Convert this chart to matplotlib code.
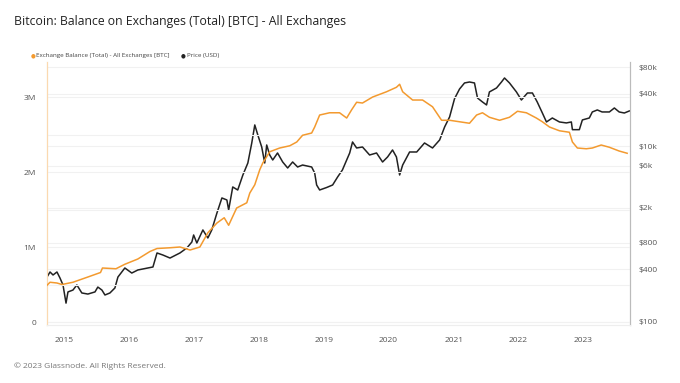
import numpy as np
import pandas as pd
import matplotlib
matplotlib.use("Agg")
import matplotlib.pyplot as plt
import matplotlib.dates as mdates
from matplotlib.ticker import FixedLocator, NullLocator

# ==============================
# DATA
# ==============================
BAL_DATES = [
    "2014-09-27", "2014-10-14", "2014-11-22", "2014-12-20", "2015-02-20",
    "2015-05-15", "2015-07-25", "2015-08-05", "2015-10-20", "2015-12-09",
    "2016-02-20", "2016-04-28", "2016-06-07", "2016-08-19", "2016-10-14",
    "2016-12-10", "2017-02-03", "2017-03-20", "2017-05-10", "2017-06-20",
    "2017-07-15", "2017-08-29", "2017-10-25", "2017-11-11", "2017-12-09",
    "2018-01-06", "2018-01-23", "2018-03-03", "2018-04-28", "2018-06-24",
    "2018-08-02", "2018-09-04", "2018-10-25", "2018-11-11", "2018-12-09",
    "2019-02-03", "2019-03-31", "2019-05-10", "2019-06-07", "2019-07-05",
    "2019-08-07", "2019-10-03", "2019-12-20", "2020-02-14", "2020-03-03",
    "2020-03-20", "2020-05-15", "2020-07-10", "2020-09-04", "2020-10-25",
    "2020-12-09", "2021-02-03", "2021-03-31", "2021-05-10", "2021-06-12",
    "2021-07-21", "2021-09-16", "2021-11-11", "2021-12-26", "2022-02-14",
    "2022-04-11", "2022-05-15", "2022-06-24", "2022-08-19", "2022-10-14",
    "2022-10-31", "2022-11-28", "2023-01-17", "2023-02-20", "2023-04-11",
    "2023-05-27", "2023-07-21", "2023-09-04",
]
BAL_BTC = [
    0.49e6, 0.53e6, 0.52e6, 0.50e6, 0.53e6,
    0.60e6, 0.66e6, 0.72e6, 0.71e6, 0.77e6,
    0.84e6, 0.94e6, 0.98e6, 0.99e6, 1.00e6,
    0.96e6, 1.00e6, 1.19e6, 1.32e6, 1.39e6,
    1.29e6, 1.52e6, 1.59e6, 1.72e6, 1.83e6,
    2.03e6, 2.12e6, 2.27e6, 2.32e6, 2.35e6,
    2.40e6, 2.49e6, 2.52e6, 2.60e6, 2.76e6,
    2.79e6, 2.79e6, 2.72e6, 2.83e6, 2.93e6,
    2.92e6, 3.00e6, 3.07e6, 3.13e6, 3.17e6,
    3.07e6, 2.96e6, 2.96e6, 2.87e6, 2.69e6,
    2.69e6, 2.67e6, 2.65e6, 2.76e6, 2.79e6,
    2.73e6, 2.69e6, 2.73e6, 2.81e6, 2.79e6,
    2.72e6, 2.67e6, 2.60e6, 2.55e6, 2.53e6,
    2.40e6, 2.32e6, 2.31e6, 2.32e6, 2.36e6,
    2.33e6, 2.28e6, 2.25e6,
]

PRICE_DATES = [
    "2014-09-27", "2014-10-14", "2014-10-31", "2014-11-22", "2014-12-09",
    "2014-12-26", "2015-01-12", "2015-01-23", "2015-02-20", "2015-03-14",
    "2015-04-11", "2015-05-15", "2015-06-24", "2015-07-10", "2015-08-02",
    "2015-08-19", "2015-09-16", "2015-10-14", "2015-10-31", "2015-12-09",
    "2016-01-17", "2016-02-20", "2016-04-16", "2016-05-15", "2016-06-07",
    "2016-07-10", "2016-08-19", "2016-10-14", "2016-11-22", "2016-12-20",
    "2016-12-30", "2017-01-17", "2017-02-20", "2017-03-20", "2017-04-11",
    "2017-05-10", "2017-06-07", "2017-07-05", "2017-07-15", "2017-08-07",
    "2017-09-04", "2017-10-03", "2017-10-31", "2017-11-22", "2017-12-09",
    "2017-12-26", "2018-01-17", "2018-02-03", "2018-02-14", "2018-03-03",
    "2018-03-20", "2018-04-16", "2018-05-15", "2018-06-12", "2018-07-10",
    "2018-08-07", "2018-09-04", "2018-10-25", "2018-11-11", "2018-11-22",
    "2018-12-09", "2019-01-17", "2019-02-20", "2019-03-20", "2019-04-16",
    "2019-05-10", "2019-05-27", "2019-06-12", "2019-07-05", "2019-08-07",
    "2019-09-16", "2019-10-25", "2019-11-28", "2019-12-26", "2020-01-23",
    "2020-02-14", "2020-03-03", "2020-03-20", "2020-04-28", "2020-06-07",
    "2020-07-21", "2020-09-04", "2020-10-14", "2020-11-11", "2020-12-09",
    "2021-01-06", "2021-02-03", "2021-03-03", "2021-03-31", "2021-04-28",
    "2021-05-15", "2021-06-12", "2021-07-05", "2021-07-21", "2021-08-30",
    "2021-09-27", "2021-10-14", "2021-11-11", "2021-12-20", "2022-01-17",
    "2022-02-20", "2022-03-20", "2022-04-16", "2022-05-15", "2022-06-07",
    "2022-07-10", "2022-08-19", "2022-09-27", "2022-10-25", "2022-10-31",
    "2022-12-09", "2022-12-26", "2023-02-03", "2023-02-20", "2023-03-20",
    "2023-04-16", "2023-05-27", "2023-06-24", "2023-07-21", "2023-08-19",
    "2023-09-16",
]
PRICE_USD = [
    325, 371, 343, 371, 317,
    264, 164, 220, 231, 264,
    214, 208, 220, 250, 231,
    203, 214, 244, 325, 412,
    361, 391, 412, 423, 611,
    579, 535, 611, 697, 815,
    979, 794, 1117, 905, 1117,
    1742, 2585, 2453, 1887, 3449,
    3186, 4722, 6468, 10930, 17540,
    13490, 9840, 6468, 10370, 7977,
    6998, 8410, 6640, 5675, 6640,
    5823, 6133, 5823, 4974, 3633,
    3186, 3400, 3633, 4481, 5385,
    6998, 8410, 11220, 9590, 9840,
    7977, 8410, 6640, 7570, 9100,
    7570, 4722, 6133, 8630, 8630,
    10930, 9590, 11830, 16630, 21630,
    35000, 45000, 52750, 54110, 52750,
    35570, 32050, 29630, 41690, 46240,
    54110, 60090, 52750, 41690, 33760,
    40550, 40550, 32050, 23990, 18970,
    21050, 18970, 18490, 18970, 15500,
    15500, 20000, 21050, 24660, 25990,
    24660, 24660, 27370, 24660, 23990,
    25300,
]

YEAR_TICKS = [2015, 2016, 2017, 2018, 2019, 2020, 2021, 2022, 2023]
LEFT_TICKS = [0, 1e6, 2e6, 3e6]
LEFT_LABELS = ["0", "1M", "2M", "3M"]
RIGHT_TICKS = [100, 400, 800, 2000, 6000, 10000, 40000, 80000]
RIGHT_LABELS = ["$100", "$400", "$800", "$2k", "$6k", "$10k", "$40k", "$80k"]

TITLE = "Bitcoin: Balance on Exchanges (Total) [BTC] - All Exchanges"
FOOTER = "\u00a9 2023 Glassnode. All Rights Reserved."

# ==============================
# STYLE
# ==============================
ORANGE = "#f39a2f"
BLACK = "#222222"
TICK_GREY = "#555555"
GRID = "#f1f1f1"

plt.rcParams["font.family"] = ["Open Sans", "DejaVu Sans"]


def main():
    bal_x = pd.to_datetime(BAL_DATES)
    px_x = pd.to_datetime(PRICE_DATES)

    fig = plt.figure(figsize=(6.8, 3.83), dpi=100)
    ax = fig.add_axes([47 / 680, 1 - 325 / 383, (630 - 47) / 680, (325 - 62) / 383])
    ax2 = ax.twinx()

    # left axis: balance
    ax.set_ylim(-0.04e6, 3.467e6)
    ax.yaxis.set_major_locator(FixedLocator(LEFT_TICKS))
    ax.set_yticklabels(LEFT_LABELS)
    for v in np.arange(0, 3.5e6, 0.5e6):
        ax.axhline(v, color=GRID, lw=0.8, zorder=0)

    # right axis: price, log
    ax2.set_yscale("log")
    ax2.set_ylim(92.4, 91400)
    ax2.yaxis.set_major_locator(FixedLocator(RIGHT_TICKS))
    ax2.yaxis.set_minor_locator(NullLocator())
    ax2.set_yticklabels(RIGHT_LABELS)
    for v in RIGHT_TICKS:
        ax2.axhline(v, color=GRID, lw=0.8, zorder=0)

    ax.plot(bal_x, BAL_BTC, color=ORANGE, lw=1.1, zorder=3)
    ax2.plot(px_x, PRICE_USD, color=BLACK, lw=1.1, zorder=3)

    ax.set_xlim(pd.Timestamp("2014-09-27"), pd.Timestamp("2023-09-20"))
    ax.xaxis.set_major_locator(FixedLocator([mdates.date2num(pd.Timestamp(f"{y}-01-01")) for y in YEAR_TICKS]))
    ax.xaxis.set_major_formatter(mdates.DateFormatter("%Y"))

    for a in (ax, ax2):
        a.tick_params(length=0, labelsize=6, colors=TICK_GREY)
        a.spines["top"].set_visible(False)
        a.spines["bottom"].set_color("#eeeeee")
        a.spines["left"].set_color("#fbd9b0")
        a.spines["right"].set_color("#bbbbbb")
    ax.tick_params(axis="x", pad=9)
    ax.tick_params(axis="y", pad=8)
    ax2.tick_params(axis="y", pad=6)
    ax.set_zorder(ax2.get_zorder() + 1)
    ax.patch.set_visible(False)

    # title, legend, footer
    fig.text(14 / 680, 1 - 22 / 383, TITLE, fontsize=8.8, color="#222222", va="center", ha="left")
    fig.text(31 / 680, 1 - 56 / 383, "\u25cf", fontsize=4, color=ORANGE, va="center", ha="left")
    fig.text(36 / 680, 1 - 56 / 383, "Exchange Balance (Total) - All Exchanges [BTC]",
             fontsize=4.5, color="#444444", va="center", ha="left")
    fig.text(181 / 680, 1 - 56 / 383, "\u25cf", fontsize=4, color=BLACK, va="center", ha="left")
    fig.text(187 / 680, 1 - 56 / 383, "Price (USD)", fontsize=4.5, color="#444444", va="center", ha="left")
    fig.text(14 / 680, 1 - 366 / 383, FOOTER, fontsize=6, color="#777777", va="center", ha="left")

    fig.savefig("out.png", dpi=100, facecolor="white")


if __name__ == "__main__":
    main()
